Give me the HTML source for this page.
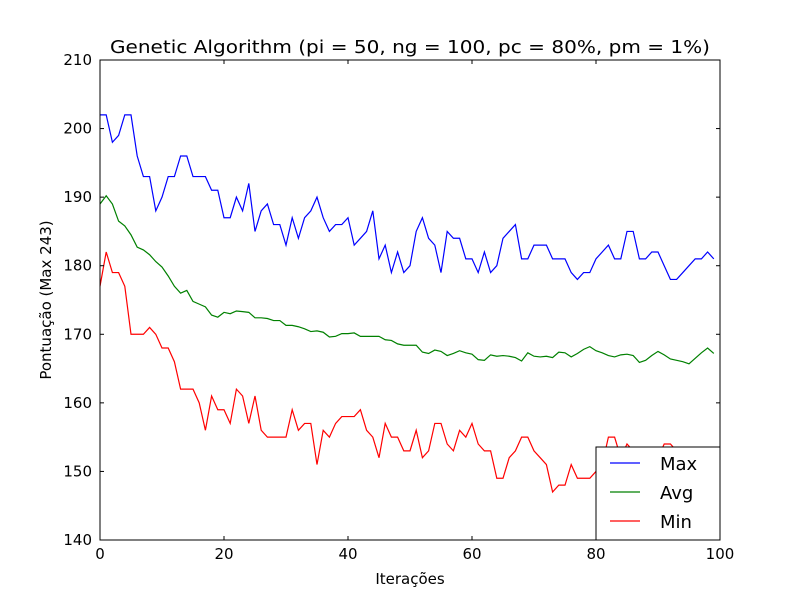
<!DOCTYPE html>
<html><head><meta charset="utf-8"><style>
body{margin:0;background:#fff}
svg{display:block;font-family:"DejaVu Sans","Liberation Sans",sans-serif}
</style></head><body>
<svg id="chart" width="800" height="600">
<rect width="800" height="600" fill="#fff"/>
<g id="plot"></g>
</svg>
<script>
const iterations = Array.from({length:100},(_, i)=>i);
const maxValues = [202,202,198,199,202,202,196,193,193,188,190,193,193,196,196,193,193,193,191,191,187,187,190,188,192,185,188,189,186,186,183,187,184,187,188,190,187,185,186,186,187,183,184,185,188,181,183,179,182,179,180,185,187,184,183,179,185,184,184,181,181,179,182,179,180,184,185,186,181,181,183,183,183,181,181,181,179,178,179,179,181,182,183,181,181,185,185,181,181,182,182,180,178,178,179,180,181,181,182,181];
const avgValues = [189,190.2,189,186.5,185.8,184.5,182.7,182.3,181.6,180.6,179.8,178.5,177,176,176.4,174.8,174.4,174,172.8,172.5,173.2,173,173.4,173.3,173.2,172.4,172.4,172.3,172,172,171.3,171.3,171.1,170.8,170.4,170.5,170.3,169.6,169.7,170.1,170.1,170.2,169.7,169.7,169.7,169.7,169.2,169.1,168.6,168.4,168.4,168.4,167.4,167.2,167.7,167.5,166.9,167.2,167.6,167.3,167.1,166.3,166.2,167,166.8,166.9,166.8,166.6,166.1,167.3,166.8,166.7,166.8,166.6,167.4,167.3,166.7,167.2,167.8,168.2,167.6,167.3,166.9,166.7,167,167.1,166.9,165.9,166.2,166.9,167.5,167,166.4,166.2,166,165.7,166.5,167.3,168,167.2];
const minValues = [177,182,179,179,177,170,170,170,171,170,168,168,166,162,162,162,160,156,161,159,159,157,162,161,157,161,156,155,155,155,155,159,156,157,157,151,156,155,157,158,158,158,159,156,155,152,157,155,155,153,153,156,152,153,157,157,154,153,156,155,157,154,153,153,149,149,152,153,155,155,153,152,151,147,148,148,151,149,149,149,150,151,155,155,152,154,153,152,153,153,152,154,154,153,152,151,152,151,150,150];
const xTicks = [0,20,40,60,80,100];
const yTicks = [140,150,160,170,180,190,200,210];

const L=100,R=720,T=60,B=540;
const xs=v=>L+(v-0)/(100-0)*(R-L);
const ys=v=>B-(v-140)/(210-140)*(B-T);
const NS="http://www.w3.org/2000/svg";
const g=document.getElementById('plot');
function mk(tag,attrs,parent){const e=document.createElementNS(NS,tag);for(const k in attrs)e.setAttribute(k,attrs[k]);(parent||g).appendChild(e);return e;}

function series(vals,color,name){
  const p=mk('polyline',{points:vals.map((v,i)=>xs(iterations[i])+','+ys(v)).join(' '),fill:'none',stroke:color,'stroke-width':1.2});
  
  
}
series(maxValues,'#0000ff','max-series');
series(avgValues,'#008000','avg-series');
series(minValues,'#ff0000','min-series');

const frame=mk('rect',{x:L,y:T,width:R-L,height:B-T,fill:'none',stroke:'#000','stroke-width':1});



xTicks.forEach(t=>{
  const x=xs(t);
  mk('line',{x1:x,x2:x,y1:B,y2:B-4,stroke:'#000'});
  mk('line',{x1:x,x2:x,y1:T,y2:T+4,stroke:'#000'});
  const tx=mk('text',{x:x,y:B+19,'text-anchor':'middle','font-size':15});
  tx.textContent=t;
  
  
});
yTicks.forEach(t=>{
  const y=ys(t);
  mk('line',{x1:L,x2:L+4,y1:y,y2:y,stroke:'#000'});
  mk('line',{x1:R,x2:R-4,y1:y,y2:y,stroke:'#000'});
  const tx=mk('text',{x:L-8,y:y+5,'text-anchor':'end','font-size':15});
  tx.textContent=t;
  
  
});

const title=mk('text',{x:410,y:53,'text-anchor':'middle','font-size':18,textLength:600,lengthAdjust:'spacingAndGlyphs'});
title.textContent='Genetic Algorithm (pi = 50, ng = 100, pc = 80%, pm = 1%)';



const xl=mk('text',{x:410,y:584,'text-anchor':'middle','font-size':15});
xl.textContent='Iterações';



const yl=mk('text',{x:0,y:0,'text-anchor':'middle','font-size':15,transform:'translate(51,300) rotate(-90)'});
yl.textContent='Pontuação (Max 243)';



const leg=mk('g',{});


mk('rect',{x:596,y:447,width:124,height:93,fill:'#fff',stroke:'#000','stroke-width':1},leg);
[['Max','#0000ff',463],['Avg','#008000',492],['Min','#ff0000',521]].forEach(([n,c,y])=>{
  mk('line',{x1:610,x2:640,y1:y,y2:y,stroke:c,'stroke-width':1.2},leg);
  const t=mk('text',{x:660,y:y+7,'font-size':18},leg);
  t.textContent=n;
  
  
});
</script>
</body></html>
